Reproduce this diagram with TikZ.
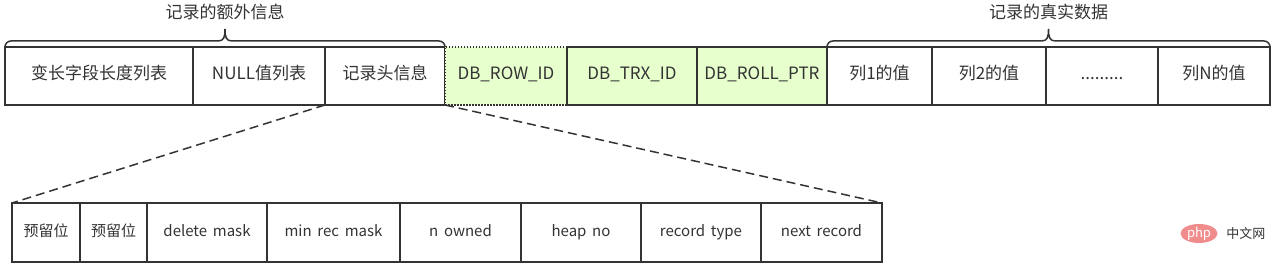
\documentclass[tikz,border=0pt]{standalone}
\usepackage{fontspec}
\setmainfont{Noto Sans CJK SC}[WordSpace=1.7]
\usetikzlibrary{positioning, calc, shapes.geometric}
\definecolor{lineclr}{HTML}{333333}
\definecolor{sysfill}{HTML}{E6FFCC}
\definecolor{phpred}{HTML}{F08C8C}

% curly bracket over a run of cells
\newcommand{\rowbrace}[2]{%
  \draw[bracket] let \p1=(#1), \p2=(#2), \p3=($(#1)!0.5!(#2)$) in
    (\x1,\y1) arc[start angle=180, end angle=90, radius=6]
    -- (\x3-7,\y1+6) .. controls (\x3-1,\y1+6) and (\x3,\y1+10) .. (\x3,\y1+18)
    .. controls (\x3,\y1+10) and (\x3+1,\y1+6) .. (\x3+7,\y1+6)
    -- (\x2-6,\y1+6) arc[start angle=90, end angle=0, radius=6];
}

\begin{document}
\begin{tikzpicture}[x=1pt, y=1pt, line width=1.5pt, every node/.style={text=lineclr}]
\tikzset{
  fcell/.style={draw=lineclr, fill=white, minimum height=58, inner sep=0pt, outer sep=0pt, text height=0.8em, text depth=0.08em, font=\fontsize{17}{20}\selectfont},
  scell/.style={fcell, fill=sysfill},
  hcell/.style={draw=lineclr, fill=white, minimum height=59, inner sep=0pt, outer sep=0pt, text height=0.8em, text depth=0.08em, font=\fontsize{15}{18}\selectfont},
  bracket/.style={draw=lineclr, line width=1.5pt},
  ttl/.style={font=\fontsize{17}{20}\selectfont},
  zoomline/.style={draw=lineclr, dash pattern=on 9pt off 5pt},
}
\useasboundingbox (0,0) rectangle (1274,267);
% record row
\node[fcell, minimum width=188, anchor=north west] (len) at (5,220) {变长字段长度列表};
\node[fcell, minimum width=132, right=0pt of len] (null) {NULL值列表};
\node[fcell, minimum width=120, right=0pt of null] (hdr) {记录头信息};
\node[scell, minimum width=122, right=0pt of hdr, dash pattern=on 1.5pt off 1.5pt] (rowid) {DB\_ROW\_ID};
\node[scell, minimum width=130, right=0pt of rowid] (trxid) {DB\_TRX\_ID};
\node[scell, minimum width=130, right=0pt of trxid] (rollptr) {DB\_ROLL\_PTR};
\node[fcell, minimum width=105, right=0pt of rollptr] (col1) {列1的值};
\node[fcell, minimum width=114, right=0pt of col1] (col2) {列2的值};
\node[fcell, minimum width=112, right=0pt of col2] (dots) {.........};
\node[fcell, minimum width=112, right=0pt of dots] (coln) {列N的值};
% brackets and their titles
\rowbrace{len.north west}{hdr.north east}
\rowbrace{col1.north west}{coln.north east}
\node[ttl] (ttlextra) at ($(len.north west)!0.5!(hdr.north east)+(0,35)$) {记录的额外信息};
\node[ttl] (ttldata) at ($(col1.north west)!0.5!(coln.north east)+(0,35)$) {记录的真实数据};
% record header row
\node[hcell, minimum width=68, anchor=north west] (res1) at (12,64) {预留位};
\node[hcell, minimum width=67, right=0pt of res1] (res2) {预留位};
\node[hcell, minimum width=120, right=0pt of res2] (delmask) {delete mask};
\node[hcell, minimum width=133, right=0pt of delmask] (minrec) {min rec mask};
\node[hcell, minimum width=121, right=0pt of minrec] (nowned) {n owned};
\node[hcell, minimum width=120, right=0pt of nowned] (heapno) {heap no};
\node[hcell, minimum width=120, right=0pt of heapno] (rectype) {record type};
\node[hcell, minimum width=121, right=0pt of rectype] (nextrec) {next record};
% zoom lines
\draw[zoomline] (hdr.south west) -- (res1.north west);
\draw[zoomline] (hdr.south east) -- (nextrec.north east);
% watermark
\node[ellipse, fill=phpred, minimum width=37, minimum height=19, inner sep=0pt] (phplogo) at (1199,33.5) {\textcolor{white}{\itshape\fontsize{13}{14}\selectfont php}};
\node[right=4pt of phplogo, font=\fontsize{13}{15}\selectfont] (phpcn) {中文网};
\end{tikzpicture}
\end{document}
